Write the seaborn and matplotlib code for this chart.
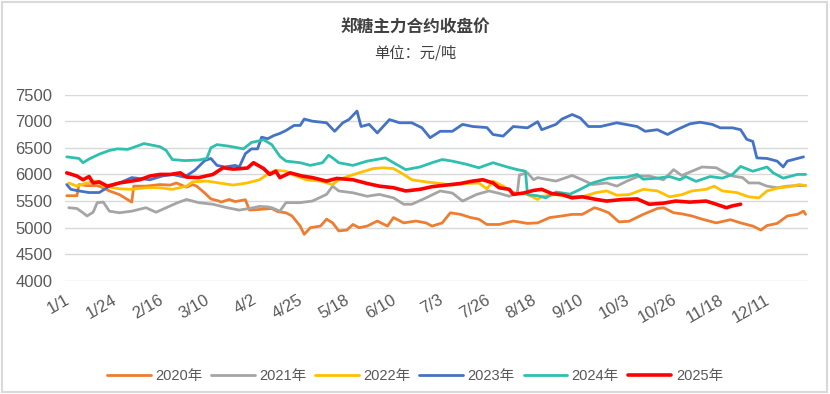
import pandas as pd
import matplotlib.pyplot as plt
import seaborn as sns
from matplotlib.patches import Rectangle

# 日期按闰年日序(0=1/1)
d2020 = [1, 6, 7, 11, 16, 19, 22, 27, 33, 34, 40, 47, 52, 55, 60, 63, 65, 69, 72, 76, 77, 81, 84, 89, 91, 95,
         102, 105, 109, 112, 116, 118, 121, 126, 129, 132, 135, 139, 142, 145, 149, 154, 159, 162, 167, 173,
         178, 181, 186, 190, 195, 200, 204, 208, 214, 221, 228, 233, 239, 245, 250, 255, 261, 264, 268, 273,
         278, 285, 292, 295, 300, 304, 309, 314, 321, 328, 333, 339, 343, 346, 351, 356, 361, 364, 365]
v2020 = [5600, 5600, 5810, 5790, 5790, 5750, 5690, 5620, 5480, 5780, 5780, 5810, 5800, 5840, 5760, 5810, 5780,
         5650, 5540, 5500, 5480, 5530, 5490, 5525, 5330, 5340, 5360, 5300, 5280, 5220, 5030, 4875, 5000, 5030,
         5160, 5090, 4940, 4955, 5060, 5000, 5030, 5125, 5030, 5190, 5090, 5125, 5090, 5030, 5090, 5280, 5250,
         5190, 5160, 5060, 5060, 5125, 5080, 5090, 5190, 5220, 5250, 5250, 5375, 5340, 5280, 5110, 5120, 5250,
         5360, 5375, 5280, 5260, 5220, 5160, 5090, 5150, 5090, 5030, 4955, 5040, 5080, 5220, 5250, 5310, 5250]

d2021 = [2, 6, 9, 11, 14, 16, 19, 22, 27, 33, 40, 45, 50, 55, 60, 66, 73, 80, 86, 93, 96, 100, 102, 106, 109,
         116, 122, 129, 132, 135, 142, 149, 155, 162, 167, 171, 178, 185, 191, 196, 203, 209, 214, 219, 223,
         224, 228, 231, 233, 237, 242, 247, 250, 255, 260, 267, 272, 277, 283, 288, 295, 300, 304, 309, 314,
         321, 324, 329, 334, 337, 342, 346, 351, 356, 361, 365]
v2021 = [5375, 5360, 5280, 5220, 5290, 5470, 5480, 5310, 5280, 5310, 5375, 5290, 5375, 5460, 5530, 5470, 5440,
         5375, 5330, 5375, 5400, 5390, 5375, 5310, 5470, 5470, 5500, 5625, 5780, 5690, 5655, 5590, 5625, 5560,
         5440, 5440, 5560, 5690, 5650, 5500, 5625, 5690, 5645, 5590, 5660, 5990, 6030, 5900, 5940, 5910, 5875,
         5940, 5980, 5900, 5810, 5840, 5780, 5875, 5970, 5970, 5900, 6090, 5980, 6060, 6140, 6125, 6060, 5970,
         5940, 5840, 5840, 5780, 5750, 5780, 5790, 5790]

d2022 = [2, 6, 11, 16, 19, 24, 27, 33, 40, 47, 53, 60, 63, 70, 76, 83, 90, 96, 101, 104, 109, 114, 119, 126,
         132, 135, 140, 145, 152, 157, 162, 167, 171, 178, 185, 191, 198, 204, 208, 211, 216, 221, 228, 233,
         235, 242, 249, 255, 262, 267, 272, 278, 285, 292, 298, 304, 309, 316, 320, 324, 331, 337, 342, 346,
         352, 357, 362, 365]
v2022 = [5840, 5780, 5840, 5875, 5780, 5750, 5730, 5720, 5750, 5750, 5720, 5780, 5860, 5875, 5840, 5800, 5840,
         5900, 6030, 6080, 6060, 5970, 5900, 5875, 5810, 5900, 5970, 6030, 6110, 6125, 6110, 6000, 5900, 5860,
         5830, 5800, 5830, 5840, 5730, 5875, 5780, 5660, 5625, 5530, 5590, 5620, 5590, 5580, 5660, 5690, 5610,
         5620, 5720, 5690, 5580, 5620, 5690, 5720, 5780, 5690, 5660, 5580, 5560, 5690, 5750, 5770, 5810, 5790]

d2023 = [1, 3, 7, 12, 17, 22, 27, 33, 42, 48, 53, 59, 64, 69, 72, 75, 79, 84, 86, 89, 92, 95, 97, 100, 103,
         106, 109, 113, 116, 118, 122, 129, 133, 137, 140, 144, 146, 150, 154, 160, 165, 171, 176, 180, 185,
         191, 196, 201, 208, 211, 216, 221, 228, 233, 235, 242, 245, 250, 254, 258, 264, 272, 282, 286, 292,
         297, 301, 308, 313, 319, 323, 329, 333, 336, 339, 341, 346, 351, 354, 356, 361, 364]
v2023 = [5810, 5720, 5690, 5660, 5660, 5780, 5840, 5940, 5900, 5970, 6000, 5950, 6075, 6260, 6300, 6170, 6140,
         6170, 6140, 6390, 6480, 6480, 6700, 6670, 6730, 6770, 6825, 6920, 6920, 7040, 7000, 6970, 6810, 6970,
         7030, 7190, 6900, 6940, 6780, 7030, 6970, 6970, 6875, 6690, 6810, 6810, 6940, 6900, 6880, 6750, 6720,
         6900, 6875, 6990, 6840, 6940, 7040, 7125, 7060, 6900, 6900, 6970, 6900, 6810, 6840, 6750, 6830, 6950,
         6980, 6940, 6875, 6875, 6840, 6660, 6620, 6310, 6300, 6250, 6140, 6250, 6300, 6330]

d2024 = [1, 7, 9, 12, 17, 22, 26, 31, 37, 39, 47, 50, 53, 59, 66, 70, 72, 75, 81, 88, 92, 98, 102, 106, 109,
         116, 121, 127, 130, 132, 135, 142, 149, 158, 162, 168, 175, 181, 186, 191, 198, 204, 211, 218, 223,
         227, 228, 233, 237, 242, 249, 254, 260, 268, 277, 282, 285, 292, 298, 303, 306, 311, 318, 324, 329,
         333, 339, 346, 349, 354, 361, 365]
v2024 = [6330, 6300, 6220, 6290, 6380, 6450, 6480, 6470, 6550, 6580, 6520, 6450, 6280, 6260, 6270, 6300, 6500,
         6560, 6530, 6480, 6600, 6650, 6560, 6340, 6250, 6220, 6170, 6220, 6360, 6310, 6220, 6170, 6250, 6310,
         6220, 6090, 6140, 6220, 6280, 6250, 6190, 6125, 6220, 6140, 6090, 6060, 5620, 5600, 5560, 5670, 5630,
         5720, 5840, 5930, 5950, 6000, 5910, 5930, 5960, 5900, 5960, 5870, 5960, 5930, 6000, 6150, 6060, 6140,
         6030, 5930, 6000, 6000]

d2025 = [1, 6, 9, 12, 14, 17, 21, 27, 37, 42, 47, 52, 57, 60, 66, 73, 78, 83, 90, 93, 98, 101, 104, 106, 111,
         117, 122, 129, 134, 142, 149, 155, 162, 168, 175, 181, 188, 195, 201, 206, 211, 214, 219, 221, 226,
         231, 235, 240, 245, 250, 255, 262, 267, 275, 282, 288, 295, 301, 308, 316, 321, 326, 329, 333]
v2025 = [6030, 5970, 5900, 5960, 5840, 5860, 5780, 5840, 5900, 5970, 6000, 6000, 6030, 5950, 5940, 6000, 6125,
         6100, 6120, 6220, 6110, 6000, 6060, 5940, 6030, 5970, 5940, 5875, 5925, 5900, 5830, 5780, 5750, 5690,
         5720, 5770, 5800, 5830, 5875, 5900, 5840, 5750, 5720, 5625, 5650, 5700, 5720, 5640, 5620, 5560, 5580,
         5530, 5500, 5530, 5540, 5440, 5460, 5500, 5480, 5500, 5440, 5375, 5410, 5440]

tick_days = [0, 23, 46, 69, 92, 115, 138, 161, 184, 207, 230, 253, 276, 299, 322, 345]
tick_labels = ["1/1", "1/24", "2/16", "3/10", "4/2", "4/25", "5/18", "6/10", "7/3", "7/26",
               "8/18", "9/10", "10/3", "10/26", "11/18", "12/11"]

series = [
    ("2020年", d2020, v2020, "#ED7D31", 2.0),
    ("2021年", d2021, v2021, "#A5A5A5", 2.0),
    ("2022年", d2022, v2022, "#FFC000", 2.0),
    ("2023年", d2023, v2023, "#4472C4", 2.0),
    ("2024年", d2024, v2024, "#2EBFAE", 2.0),
    ("2025年", d2025, v2025, "#FF0000", 2.6),
]

sns.set_theme(style="white")
plt.rcParams["font.family"] = ["Liberation Sans", "Noto Sans CJK SC", "DejaVu Sans"]

fig = plt.figure(figsize=(8.3, 3.94), dpi=100)
ax = fig.add_axes([0.078, 0.287, 0.895, 0.473])

for name, d, v, c, lw in series:
    sns.lineplot(x=d, y=v, ax=ax, color=c, linewidth=lw, label=name)

ax.set_xlim(0, 366)
ax.set_ylim(4000, 7500)
ax.set_yticks(range(4000, 7501, 500))
ax.set_xticks(tick_days)
ax.set_xticklabels(tick_labels, rotation=30, ha="right", rotation_mode="anchor")
ax.tick_params(axis="both", labelsize=12, colors="#595959", length=0)
ax.tick_params(axis="y", pad=9)
ax.tick_params(axis="x", pad=8)
ax.grid(axis="y", color="#D9D9D9", linewidth=1)
ax.set_axisbelow(True)
for s in ax.spines.values():
    s.set_visible(False)
ax.set_xlabel("")
ax.set_ylabel("")

cjk = ["Noto Sans CJK SC", "DejaVu Sans"]
fig.text(0.5, 0.93, "郑糖主力合约收盘价", ha="center", va="center", fontsize=12,
         fontweight="bold", color="#404040", family=cjk)
fig.text(0.5, 0.865, "单位：元/吨", ha="center", va="center", fontsize=11,
         color="#404040", family=cjk)

leg = ax.legend(loc="center", bbox_to_anchor=(0.5, 0.045), bbox_transform=fig.transFigure,
                ncol=6, frameon=False, fontsize=10.5, handlelength=3, columnspacing=0.6,
                handletextpad=0.3)
for t in leg.get_texts():
    t.set_color("#595959")

fig.patches.append(Rectangle((0.002, 0.005), 0.994, 0.99, transform=fig.transFigure,
                             fill=False, edgecolor="#D9D9D9", linewidth=1.5))

fig.savefig("out.png", dpi=100)
